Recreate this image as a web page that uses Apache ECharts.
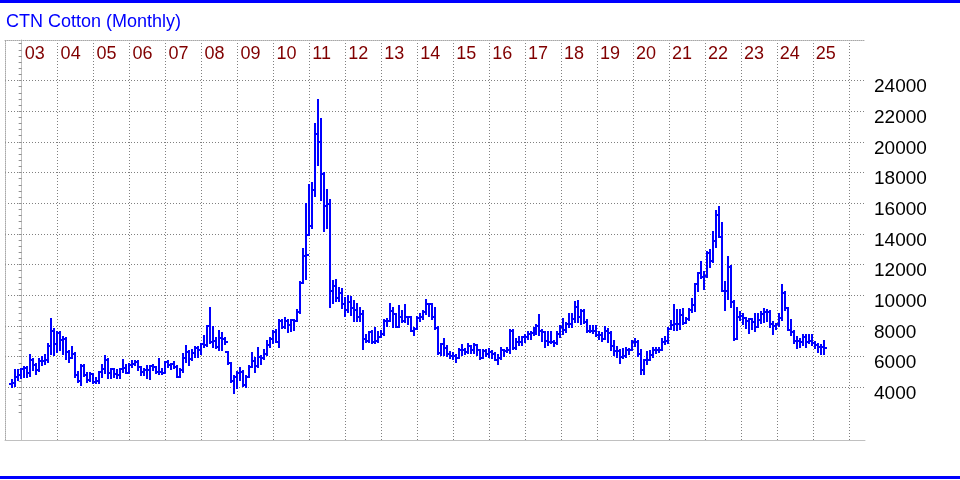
<!DOCTYPE html>
<html>
<head>
<meta charset="utf-8">
<script src="https://cdn.jsdelivr.net/npm/echarts@6/dist/echarts.min.js"></script>
<style>
html,body{margin:0;padding:0;background:#ffffff;}
#chart{width:960px;height:480px;}
</style>
</head>
<body>
<div id="chart"></div>
<script>
// ---------------- data ----------------
const chartTitle = 'CTN Cotton (Monthly)';
// first bar: September 2002, one bar per month through April 2025
const firstYear = 2002;
const firstMonth = 9;

const open = [
  4200,4260,4650,4800,
  5180,5270,4900,5800,5440,5120,5720,5720,5800,6670,7700,6800,
  7530,7100,7160,6300,5935,6190,4800,4410,5375,4800,4470,4860,
  4365,4410,5010,5225,5800,4900,5180,4860,4800,5180,5270,4950,
  5440,5550,5655,5330,5010,5160,5120,5375,5330,4970,5010,4950,
  5655,5440,5500,5340,4690,5130,5890,6320,5820,6210,6540,6430,
  6800,6750,7990,6970,7000,6650,7190,7120,6320,5600,4430,4690,
  4910,5020,4150,4650,5340,5710,5390,5990,5890,6150,6750,7120,
  7620,6970,8340,7900,8340,8050,8380,8310,8920,10800,12560,13910,
  14490,16830,20530,19980,17920,15850,15960,10260,10590,9850,10170,9400,
  9030,9550,9200,9030,8570,8770,7160,7050,7590,6950,7020,7270,
  7480,8300,8340,8990,8770,7960,8560,8300,8560,8560,7700,7810,
  8490,8600,8880,9420,9400,8600,7870,6230,6800,6580,6190,6020,
  6020,5935,6450,6410,6300,6670,6410,6730,6410,5935,6370,6150,
  6300,6190,5800,5890,6410,6370,6410,7700,6580,6950,6950,7270,
  7270,7480,7530,7740,8020,7700,7590,7050,6950,6950,6880,7480,
  7960,7740,8130,8130,8450,9250,8560,8990,8240,7700,7700,7700,
  7380,7440,7160,7700,7530,6670,6370,6370,5980,6020,6450,6450,
  6950,6950,6150,5160,5760,5800,6090,6410,6450,6450,6950,7050,
  7810,8090,8150,8150,8690,8220,8430,9020,9380,10740,11460,11180,
  11240,12750,12230,13550,15210,13830,10310,10310,11820,9560,7180,8580,
  8650,8520,8350,8430,8260,7940,8370,8800,8910,8910,8150,7980,
  8150,8520,10160,9170,7760,7610,7010,7010,6960,7290,6960,7010,
  6860,6790,6640,6640
];
const high = [
  4470,5150,5120,5200,
  5330,5300,6090,5850,5550,5870,5950,6100,6800,8450,7800,7590,
  7600,7270,7200,6350,6620,6250,5010,5440,5480,4900,4900,4880,
  4580,5010,5440,6020,5850,5225,5225,5120,5225,5800,5440,5550,
  5720,5700,5700,5350,5225,5375,5375,5440,5350,5870,5225,5655,
  5700,5550,5670,5390,5170,6150,6690,6350,6430,6650,6600,6820,
  7340,8010,9160,7950,7190,7690,7510,7190,6320,5600,4740,5020,
  5240,5050,4740,5390,6210,5890,6540,6050,6430,7040,7190,7690,
  7730,8380,8420,8490,8420,8420,8420,9030,10870,13040,15970,17160,
  17310,21180,22700,21500,17960,16830,16180,10940,11000,10490,10400,9850,
  9950,9900,9630,9420,9200,8950,7380,7630,7650,7870,7590,7650,
  8390,8450,9420,9200,8800,9310,8990,9380,8600,8600,7870,8560,
  8770,8950,9680,9460,9460,9160,7900,6840,7160,6670,6300,6240,
  6090,6520,6730,6520,6800,6700,6800,6750,6450,6450,6410,6520,
  6370,6250,6090,6580,6450,6580,7740,7750,7160,7270,7270,7380,
  7590,7590,7870,8090,8730,7740,7600,7590,7590,7000,7590,8020,
  8450,8170,8770,8770,9590,9630,9030,9030,8390,8020,8020,8020,
  7590,7530,7910,7810,7590,7010,6620,6400,6520,6580,6520,7050,
  7160,7000,6410,5800,6300,6370,6580,6580,6580,7160,7270,7870,
  8300,9340,9020,9020,9120,8520,9120,9730,10740,11460,12190,11540,
  12800,12970,14130,15500,15780,14740,10890,12470,11900,9600,9170,8910,
  8800,8550,8480,8450,8800,8800,8910,9080,9020,8950,8260,8150,
  8800,10680,10200,9200,8370,7650,7290,7180,7440,7400,7400,7400,
  6960,6850,6790,7010
];
const low = [
  4040,4060,4470,4580,
  4690,4645,4730,5160,4860,5080,5440,5500,5650,6150,6090,6300,
  6410,6190,5870,5655,5900,4690,4365,4150,4730,4365,4430,4260,
  4260,4260,4690,4900,4620,4580,4690,4580,4580,5010,4900,4900,
  5330,5440,5120,4800,4800,4580,4515,5120,4900,4860,4860,4900,
  5330,5225,5240,4650,4650,5020,5670,5450,5780,5990,6000,6200,
  6650,6700,6900,6650,6540,6430,6430,6820,5520,4370,3650,3940,
  4480,4100,4040,4650,5340,5020,5340,5520,5850,6100,6650,6860,
  6930,6650,7840,7840,7620,7690,7730,8300,8860,10800,11090,13910,
  14400,16440,18460,16180,14170,14400,9260,9510,9640,9630,9200,8670,
  8900,8700,8340,8340,8340,6520,6950,6950,6880,6900,6950,7250,
  7380,8020,8300,7910,7910,7910,8240,8240,8130,7650,7380,7800,
  8340,8450,8770,8670,8450,7800,6190,6090,6090,6020,5935,5870,
  5655,5900,6090,6190,6240,6240,6240,6090,5870,5900,6020,5980,
  5935,5760,5550,5850,6020,6300,6240,6520,6520,6730,6730,6950,
  7160,7160,7380,7480,7380,7050,6620,6730,6880,6670,6840,7270,
  7480,7590,7910,7910,8240,8240,8130,8170,7590,7590,7530,7350,
  7160,7050,7150,6950,6450,6090,5980,5590,5900,6000,6190,6420,
  6670,6020,4860,4860,5500,5780,5980,6240,6300,6420,6840,6880,
  7780,7720,7720,7830,8150,8200,8400,8910,8950,10310,11110,10380,
  11200,11820,12200,13120,13770,10250,9020,9770,9230,7070,7150,8370,
  8150,7870,7570,7830,7650,7900,8220,8260,8300,7940,7500,7780,
  8000,8370,9020,7720,7400,6860,6530,6640,6790,6640,6900,6790,
  6530,6320,6140,6140
];
const close = [
  4260,4650,4800,5180,
  5270,4900,5800,5440,5120,5720,5720,5800,6670,7700,6800,7530,
  7100,7160,6300,5935,6190,4800,4410,5375,4800,4470,4860,4365,
  4410,5010,5225,5800,4900,5180,4860,4800,5180,5270,4950,5440,
  5550,5655,5330,5010,5160,5120,5375,5330,4970,5010,4950,5655,
  5440,5500,5340,4690,5130,5890,6320,5820,6210,6540,6430,6800,
  6750,7990,6970,7000,6650,7190,7120,6970,5600,4430,4690,4910,
  5020,4150,4650,5340,5710,5390,5990,5890,6150,6750,7120,7620,
  6970,8340,7900,8340,8050,8380,8310,8920,10800,12560,12650,14490,
  16830,20530,19980,17920,15850,15960,10260,10590,9850,10170,9400,9030,
  9550,9200,9030,8570,8770,7160,7050,7590,6950,7020,7270,7480,
  8300,8340,8990,8770,7960,8560,8300,8560,8560,7700,7810,8490,
  8600,8880,9420,9400,8600,7870,6230,6800,6580,6190,6020,6020,
  5935,6450,6410,6300,6670,6410,6730,6410,5935,6370,6150,6300,
  6190,5800,5890,6410,6370,6410,7700,6580,6950,6950,7270,7270,
  7480,7530,7740,8020,7700,7590,7050,6950,6950,6880,7480,7960,
  7740,8130,8130,8450,9250,8560,8990,8240,7700,7700,7700,7380,
  7440,7160,7700,7530,6670,6370,6370,5980,6020,6450,6450,6950,
  6950,6150,5160,5760,5800,6090,6410,6450,6450,6950,7050,7810,
  8090,8150,8150,8690,8220,8430,9020,9380,10740,11460,11180,11240,
  12750,12230,13550,15210,13830,10310,10310,11820,9560,7180,8580,8650,
  8520,8350,8430,8260,7940,8370,8800,8910,8910,8150,7980,8150,
  8520,10160,9170,7760,7610,7010,7010,6960,7290,6960,7010,6860,
  6790,6640,6640,6570
];

const yearTicks = [2003,2004,2005,2006,2007,2008,2009,2010,2011,2012,2013,2014,2015,2016,2017,2018,2019,2020,2021,2022,2023,2024,2025,2026];
const yearLabels = ['03','04','05','06','07','08','09','10','11','12','13','14','15','16','17','18','19','20','21','22','23','24','25'];
const priceTicks = [4000,6000,8000,10000,12000,14000,16000,18000,20000,22000,24000];

// ---------------- layout / style ----------------
const BASE_YEAR = 2003;          // x axis unit: months since Jan 2003
const BAR_POS = 0.8;             // position of the bar inside its month
const X_MIN = -5.56, X_MAX = 281.42;
const Y_MIN = 565, Y_MAX = 26640;
const BAR_COLOR = '#0000ff';
const FONT = "'Liberation Sans', Arial, sans-serif";

const startIndex = (firstYear - BASE_YEAR) * 12 + (firstMonth - 1);
const bars = open.map((o, i) => [startIndex + i + BAR_POS, o, high[i], low[i], close[i]]);
const yearTickValues = yearTicks.map(y => (y - BASE_YEAR) * 12);
const yearLabelValues = yearLabels.map((s, i) => i * 12);
const minorTicks = [];
for (let v = 2400; v <= 26400; v += 400) minorTicks.push(v);

function renderBar(params, api) {
  const x = api.value(0);
  const o = api.value(1), h = api.value(2), l = api.value(3), c = api.value(4);
  const top = api.coord([x, Math.max(h, o, c)]);
  const bot = api.coord([x, Math.min(l, o, c)]);
  const po = api.coord([x, o]);
  const pc = api.coord([x, c]);
  const px = Math.round(top[0]);
  const yo = Math.round(po[1]);
  const yc = Math.round(pc[1]);
  const style = { stroke: BAR_COLOR, lineWidth: 2 };
  return {
    type: 'group',
    children: [
      { type: 'line', shape: { x1: px, y1: Math.round(top[1]) - 1, x2: px, y2: Math.round(bot[1]) + 1 }, style: style },
      { type: 'line', shape: { x1: px - 3, y1: yo, x2: px, y2: yo }, style: style },
      { type: 'line', shape: { x1: px, y1: yc, x2: px + 3, y2: yc }, style: style }
    ]
  };
}

const chart = echarts.init(document.getElementById('chart'), null, { renderer: 'canvas' });
chart.setOption({
  animation: false,
  backgroundColor: '#ffffff',
  title: {
    text: chartTitle,
    left: 6,
    top: 13,
    padding: 0,
    textStyle: { color: '#0000ff', fontSize: 18, fontWeight: 'normal', fontFamily: FONT, lineHeight: 18 }
  },
  graphic: [
    { type: 'rect', left: 0, top: 0, shape: { width: 960, height: 3 }, style: { fill: '#0000ff' }, silent: true },
    { type: 'rect', left: 0, top: 476, shape: { width: 960, height: 3 }, style: { fill: '#0000ff' }, silent: true }
  ],
  grid: { left: 5, right: 95, top: 40, bottom: 40, containLabel: false },
  xAxis: [
    {
      type: 'value', position: 'top', min: X_MIN, max: X_MAX,
      axisLine: { show: true, lineStyle: { color: '#a8a8a8', width: 1, type: [1, 1] } },
      axisTick: { show: false, customValues: yearTickValues },
      splitLine: { show: true, lineStyle: { color: '#808080', width: 1, type: [1, 2] } },
      axisLabel: {
        customValues: yearLabelValues,
        inside: true, margin: 5,
        formatter: v => yearLabels[Math.round(v / 12)],
        color: '#800000', fontSize: 18, fontFamily: FONT,
        align: 'left', verticalAlign: 'top', lineHeight: 18, padding: [0, 0, 0, 3]
      }
    },
    {
      type: 'value', position: 'bottom', min: X_MIN, max: X_MAX,
      axisLine: { show: true, lineStyle: { color: '#c0c0c0', width: 1 } },
      axisTick: { show: false }, axisLabel: { show: false }, splitLine: { show: false }
    }
  ],
  yAxis: [
    {
      type: 'value', position: 'right', min: Y_MIN, max: Y_MAX,
      axisLine: { show: false },
      axisTick: { show: false, customValues: priceTicks },
      splitLine: { show: true, lineStyle: { color: '#808080', width: 1, type: [1, 2] } },
      axisLabel: {
        customValues: priceTicks,
        showMinLabel: true, showMaxLabel: true, hideOverlap: false,
        formatter: v => String(v),
        color: '#000000', fontSize: 19, fontFamily: FONT, margin: 9,
        align: 'left', verticalAlign: 'top', lineHeight: 13
      }
    },
    {
      type: 'value', position: 'right', min: Y_MIN, max: Y_MAX,
      axisLine: { show: true, lineStyle: { color: '#c0c0c0', width: 1 } },
      axisTick: { show: true, inside: true, length: 3, customValues: minorTicks, lineStyle: { color: '#909090' } },
      axisLabel: { show: false }, splitLine: { show: false }
    },
    {
      type: 'value', position: 'left', min: Y_MIN, max: Y_MAX,
      axisLine: { show: true, lineStyle: { color: '#a8a8a8', width: 1, type: [1, 1] } },
      axisTick: { show: false }, axisLabel: { show: false }, splitLine: { show: false }
    }
  ],
  series: [
    {
      type: 'custom',
      name: 'CTN',
      xAxisIndex: 0,
      yAxisIndex: 0,
      renderItem: renderBar,
      encode: { x: 0, y: [1, 2, 3, 4] },
      data: bars
    }
  ]
});
</script>
</body>
</html>
